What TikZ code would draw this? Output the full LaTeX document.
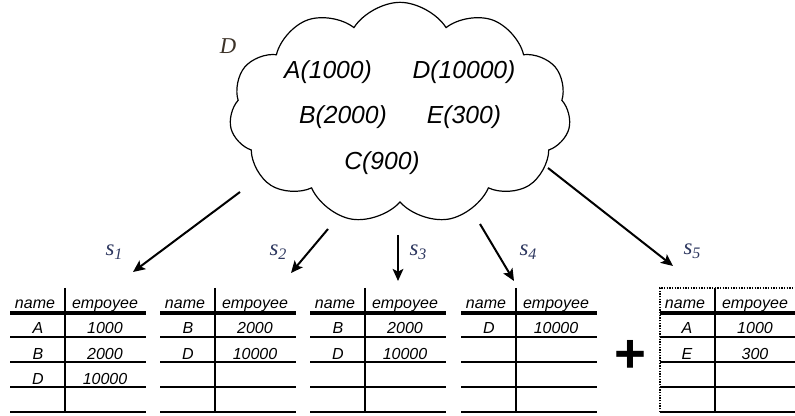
\documentclass[tikz,border=0pt]{standalone}
\usepackage{fontspec}
\setmainfont{Liberation Sans}
\newfontfamily\timesfont{Liberation Serif}
\usetikzlibrary{shapes.symbols,arrows.meta}
\definecolor{inkblue}{RGB}{45,55,95}
\definecolor{inkbrown}{RGB}{60,50,40}

\begin{document}
\begin{tikzpicture}
[x=0.75pt,y=-0.75pt,
 bag/.style={font=\itshape\fontsize{18.5}{22}\selectfont},
 cell/.style={anchor=base,font=\itshape\fontsize{12}{13}\selectfont},
 lbl/.style={text=inkblue,font=\timesfont\itshape\fontsize{17}{18}\selectfont},
 split/.style={line width=1.5pt,-{Stealth[length=9pt,width=8pt,inset=2pt]}}]
\useasboundingbox (0,0) rectangle (795,416);

\node[cloud,draw,line width=0.9pt,cloud puffs=11,cloud puff arc=115,cloud ignores aspect,
      minimum width=256pt,minimum height=166pt,inner sep=0pt] (D) at (400,113) {};
\node[lbl,text=inkbrown,font=\timesfont\itshape\fontsize{17}{18}\selectfont] (Dl) at (228,46) {D};

\node[bag] (ca) at (328,72) {A(1000)};
\node[bag] (cd) at (464,72) {D(10000)};
\node[bag] (cb) at (343,117) {B(2000)};
\node[bag] (ce) at (464,117) {E(300)};
\node[bag] (cc) at (382,163) {C(900)};

% splits
\coordinate (a1) at (240,192); \coordinate (b1) at (133,272);
\coordinate (a2) at (328,229); \coordinate (b2) at (291,273);
\coordinate (a3) at (398,235); \coordinate (b3) at (398,281);
\coordinate (a4) at (480,224); \coordinate (b4) at (514,281);
\coordinate (a5) at (548,168); \coordinate (b5) at (673,266);
\foreach \i in {1,...,5}
\draw[split] (a\i) -- (b\i);

\node[lbl] (s1) at (114,252) {s\raisebox{-0.4ex}{\fontsize{12}{12}\selectfont\itshape 1}};
\node[lbl] (s2) at (278,252) {s\raisebox{-0.4ex}{\fontsize{12}{12}\selectfont\itshape 2}};
\node[lbl] (s3) at (418,252) {s\raisebox{-0.4ex}{\fontsize{12}{12}\selectfont\itshape 3}};
\node[lbl] (s4) at (528,252) {s\raisebox{-0.4ex}{\fontsize{12}{12}\selectfont\itshape 4}};
\node[lbl] (s5) at (692,251) {s\raisebox{-0.4ex}{\fontsize{12}{12}\selectfont\itshape 5}};

% tables
\foreach \x/\t in {10/1,160/2,310/3,461/4,660/5} {
\draw[line width=2.6pt] (\x,313) -- ++(136,0);
\foreach \y in {337,362,387,412}
\draw[line width=0.9pt] (\x,\y) -- ++(136,0);
\draw[line width=0.8pt] (\x+55,288) -- (\x+55,413);
\node[cell] (name\t) at (\x+25,309) {name};
\node[cell] (emp\t) at (\x+95,309) {empoyee};
}
\draw[line width=0.8pt,dash pattern=on 1pt off 1pt] (660,412) -- (660,288) -- (796,288);

\node[cell] (t1a) at (38,334) {A};  \node[cell] (t1av) at (105,334) {1000};
\node[cell] (t1b) at (38,359) {B};  \node[cell] (t1bv) at (105,359) {2000};
\node[cell] (t1d) at (38,384) {D};  \node[cell] (t1dv) at (105,384) {10000};

\node[cell] (t2b) at (188,334) {B}; \node[cell] (t2bv) at (255,334) {2000};
\node[cell] (t2d) at (188,359) {D}; \node[cell] (t2dv) at (255,359) {10000};

\node[cell] (t3b) at (338,334) {B}; \node[cell] (t3bv) at (405,334) {2000};
\node[cell] (t3d) at (338,359) {D}; \node[cell] (t3dv) at (405,359) {10000};

\node[cell] (t4d) at (489,334) {D}; \node[cell] (t4dv) at (556,334) {10000};

\node[cell] (t5a) at (687,334) {A}; \node[cell] (t5av) at (755,334) {1000};
\node[cell] (t5e) at (687,359) {E}; \node[cell] (t5ev) at (755,359) {300};

\node[anchor=base,font=\bfseries\fontsize{41}{41}\selectfont] (plus) at (630,372) {+};
\end{tikzpicture}
\end{document}
